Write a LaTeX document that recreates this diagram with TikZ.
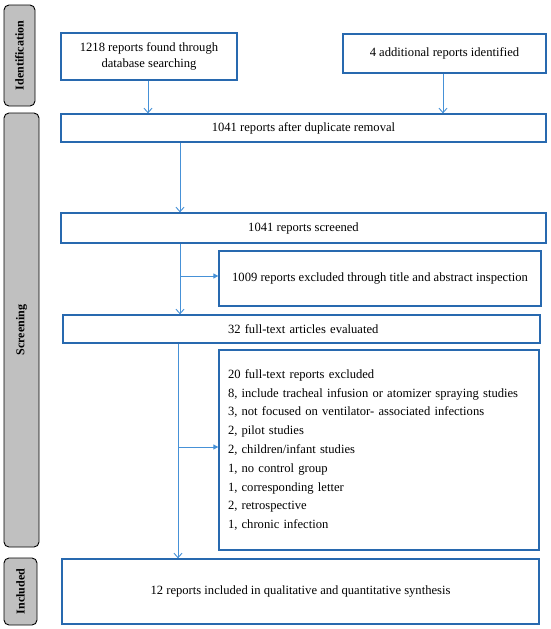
\documentclass[tikz,border=0pt]{standalone}
\usepackage{fontspec}
\setmainfont{Liberation Serif}
\usetikzlibrary{arrows.meta}
\definecolor{boxblue}{RGB}{40,105,175}
\definecolor{arrblue}{RGB}{70,145,215}
\definecolor{sidegray}{RGB}{192,192,192}
\tikzset{
  flowbox/.style={draw=boxblue, line width=1.3pt, fill=white, inner sep=0pt,
    font=\fontsize{12.6}{16}\selectfont, align=center},
  sidebox/.style={draw=black, line width=0.9pt, fill=sidegray, rounded corners=5pt,
    inner sep=0pt},
  sidetext/.style={rotate=90, font=\bfseries\fontsize{12}{14}\selectfont},
  flowarrow/.style={draw=arrblue, line width=0.9pt, -{Straight Barb[length=4.5pt,width=8pt]}},
  brancharrow/.style={draw=arrblue, line width=0.9pt, -{Triangle[length=5pt,width=5pt]}}
}
\begin{document}
\begin{tikzpicture}[x=1pt,y=-1pt]
\useasboundingbox (0,0) rectangle (550,629);
% side labels
\node[sidebox, minimum width=31pt, minimum height=101pt] (sid) at (19.5,55.5) {};
\node[sidetext] (sidt) at (sid.center) {Identification};
\node[sidebox, minimum width=35pt, minimum height=434pt] (sscr) at (21.5,330) {};
\node[sidetext] (sscrt) at (sscr.center) {Screening};
\node[sidebox, minimum width=33pt, minimum height=67pt] (sinc) at (20.5,591.5) {};
\node[sidetext] (sinct) at (sinc.center) {Included};
% boxes
\node[flowbox, minimum width=176pt, minimum height=47pt] (b1) at (149,56.5)
  {1218 reports found through\\database searching};
\node[flowbox, minimum width=203pt, minimum height=39pt] (b2) at (444.5,53.5)
  {4 additional reports identified};
\node[flowbox, minimum width=485pt, minimum height=28pt] (b3) at (303.5,128)
  {1041 reports after duplicate removal};
\node[flowbox, minimum width=485pt, minimum height=30pt] (b4) at (303.5,228)
  {1041 reports screened};
\node[flowbox, minimum width=322pt, minimum height=55pt] (b5) at (380,278.5)
  {1009 reports excluded through title and abstract inspection};
\node[flowbox, minimum width=477pt, minimum height=28pt, text width=469pt, align=left] (b6) at (301.5,329)
  {\hspace*{161pt}32 full-text articles evaluated};
\node[flowbox, minimum width=320pt, minimum height=200pt, text width=302pt, align=left,
  font=\fontsize{12.6}{18.8}\selectfont] (b7) at (379,450)
  {20 full-text reports excluded\\
   8, include tracheal infusion or atomizer spraying studies\\
   3, not focused on ventilator- associated infections\\
   2, pilot studies\\
   2, children/infant studies\\
   1, no control group\\
   1, corresponding letter\\
   2, retrospective\\
   1, chronic infection};
\node[flowbox, minimum width=477pt, minimum height=65pt] (b8) at (300.5,591.5)
  {12 reports included in qualitative and quantitative synthesis};
% arrows
\draw[flowarrow] (b1.south -| 148,0) -- (b3.north -| 148,0);
\draw[flowarrow] (b2.south -| 443,0) -- (b3.north -| 443,0);
\draw[flowarrow] (b3.south -| 180,0) -- (b4.north -| 180,0);
\draw[flowarrow] (b4.south -| 180,0) -- (b6.north -| 180,0);
\coordinate (j1) at (180,276);
\draw[brancharrow] (j1) -- (j1 -| b5.west);
\draw[flowarrow] (b6.south -| 178,0) -- (b8.north -| 178,0);
\coordinate (j2) at (178,447);
\draw[brancharrow] (j2) -- (j2 -| b7.west);
\end{tikzpicture}
\end{document}
